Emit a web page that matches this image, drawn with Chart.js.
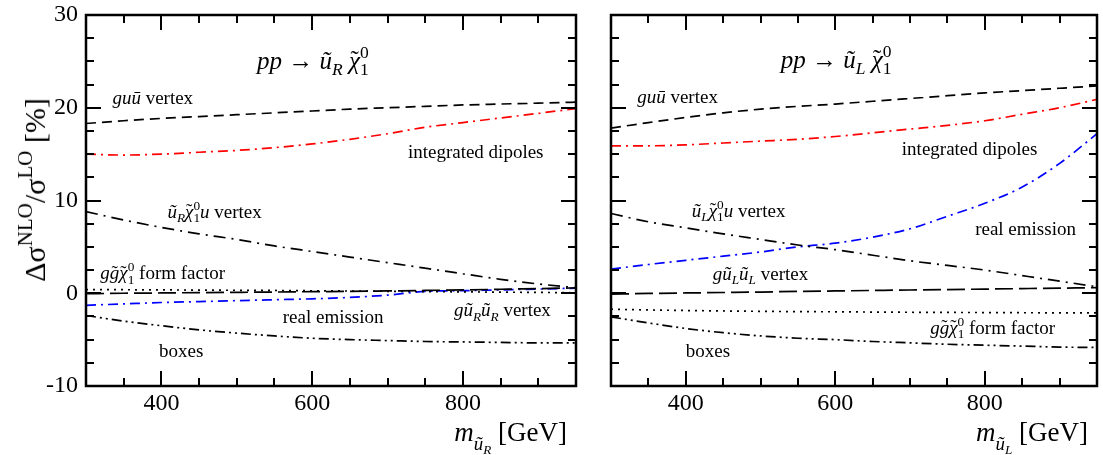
<!DOCTYPE html>
<html>
<head>
<meta charset="utf-8">
<script src="https://cdn.jsdelivr.net/npm/chart.js@4.4.0/dist/chart.umd.min.js"></script>
<style>
    body { margin: 0; background: #fff; width: 1103px; height: 455px; overflow: hidden; position: relative; font-family: "Liberation Serif", serif; color: #000; }
    canvas { position: absolute; top: 0; }
    #leftChart { left: 0; }
    #rightChart { left: 590px; }
    .lbl { position: absolute; white-space: nowrap; font-size: 19px; line-height: 1; transform: translateY(-50%); }
    .sp, .sb { position: relative; font-size: 70%; }
    .sp { top: -0.6em; }
    .sb { top: 0.35em; }
    .st { margin-left: -0.5em; }
    .tw { position: relative; display: inline-block; }
    .tl { position: absolute; left: 0; right: 0; top: -0.02em; text-align: center; font-style: normal; }
    .axisTitle { position: absolute; white-space: nowrap; font-size: 27px; line-height: 1; }
    #yTitle { position: absolute; left: 35px; top: 190px; font-size: 30px; line-height: 1; white-space: nowrap; transform: translate(-50%, -50%) rotate(-90deg); }
</style>
</head>
<body>
<canvas id="leftChart" width="590" height="455"></canvas>
<canvas id="rightChart" width="513" height="455"></canvas>
<div id="yTitle">Δσ<span class="sp">NLO</span>/σ<span class="sp">LO</span> [%]</div>
<script>
// squark mass grid [GeV]
const mass = [300, 350, 400, 450, 500, 550, 600, 650, 700, 750, 800, 850, 900, 950];
const xTickValues = [400, 600, 800];
const yTickValues = [-10, 0, 10, 20, 30];
const xMinorStep = 50;
const yMinorStep = 2.5;

// pp -> ~u_R ~chi_1^0
const guuVertexR = [18.3, 18.6, 18.85, 19.05, 19.25, 19.45, 19.65, 19.85, 20.0, 20.15, 20.3, 20.4, 20.5, 20.6];
const dipolesR = [15.0, 14.9, 15.0, 15.2, 15.4, 15.7, 16.1, 16.6, 17.2, 17.9, 18.4, 18.9, 19.4, 19.9];
const sqChiVertexR = [8.8, 7.9, 7.1, 6.4, 5.8, 5.1, 4.5, 3.9, 3.3, 2.7, 2.1, 1.5, 1.0, 0.6];
const formFactorR = [0.4, 0.38, 0.36, 0.34, 0.32, 0.3, 0.27, 0.24, 0.21, 0.18, 0.15, 0.12, 0.09, 0.05];
const gluSqVertexR = [-0.05, 0.0, 0.03, 0.07, 0.1, 0.13, 0.17, 0.2, 0.25, 0.3, 0.36, 0.43, 0.5, 0.58];
const realEmR = [-1.3, -1.15, -1.0, -0.9, -0.8, -0.7, -0.6, -0.45, -0.2, 0.2, 0.28, 0.36, 0.45, 0.55];
const boxesR = [-2.4, -3.0, -3.5, -3.95, -4.3, -4.6, -4.85, -5.0, -5.1, -5.2, -5.25, -5.3, -5.35, -5.35];

// pp -> ~u_L ~chi_1^0
const guuVertexL = [17.8, 18.4, 18.95, 19.45, 19.85, 20.15, 20.4, 20.7, 21.0, 21.3, 21.6, 21.85, 22.1, 22.35];
const dipolesL = [15.9, 15.9, 16.0, 16.2, 16.4, 16.6, 16.9, 17.3, 17.7, 18.1, 18.6, 19.3, 20.0, 20.9];
const sqChiVertexL = [8.6, 7.7, 7.05, 6.4, 5.8, 5.2, 4.7, 4.1, 3.5, 3.0, 2.5, 1.9, 1.3, 0.7];
const realEmL = [2.6, 3.1, 3.55, 4.0, 4.45, 5.0, 5.4, 6.05, 6.95, 8.3, 9.7, 11.45, 14.0, 17.2];
const gluSqVertexL = [-0.1, -0.02, 0.03, 0.08, 0.13, 0.2, 0.25, 0.3, 0.35, 0.4, 0.45, 0.5, 0.55, 0.6];
const formFactorL = [-1.72, -1.8, -1.86, -1.91, -1.95, -1.98, -2.0, -2.03, -2.05, -2.07, -2.08, -2.1, -2.11, -2.12];
const boxesL = [-2.55, -3.2, -3.8, -4.25, -4.6, -4.85, -5.0, -5.2, -5.35, -5.5, -5.6, -5.7, -5.8, -5.85];

const styles = {
    guu: { color: '#000', dash: [10, 6] },
    dipoles: { color: '#ff0000', dash: [10, 5, 2, 5] },
    sqChi: { color: '#000', dash: [12, 6, 2, 6] },
    formFactor: { color: '#000', dash: [2, 5] },
    gluSq: { color: '#000', dash: [18, 6] },
    realEm: { color: '#0000ff', dash: [10, 5, 2, 5] },
    boxes: { color: '#000', dash: [10, 4, 2, 4, 2, 4] }
};

const seriesR = [
    [guuVertexR, styles.guu], [dipolesR, styles.dipoles], [sqChiVertexR, styles.sqChi],
    [formFactorR, styles.formFactor], [gluSqVertexR, styles.gluSq], [realEmR, styles.realEm], [boxesR, styles.boxes]
];
const seriesL = [
    [guuVertexL, styles.guu], [dipolesL, styles.dipoles], [sqChiVertexL, styles.sqChi],
    [formFactorL, styles.formFactor], [gluSqVertexL, styles.gluSq], [realEmL, styles.realEm], [boxesL, styles.boxes]
];

const tilde = ch => '<span class="tw"><i>' + ch + '</i><span class="tl">˜</span></span>';
const chi = tilde('χ') + '<span class="sp">0</span><span class="sb st">1</span>';
const labelsR = [
    { html: '<i>pp</i> → <i>ũ</i><span class="sb"><i>R</i></span> ' + chi, x: 527, y: 25.2, size: 25 },
    { html: '<i>guū</i> vertex', x: 335, y: 21.2 },
    { html: 'integrated dipoles', x: 727, y: 15.3 },
    { html: '<i>ũ</i><span class="sb"><i>R</i></span>' + chi + '<i>u</i> vertex', x: 408, y: 8.9 },
    { html: '<i>g</i>' + tilde('g') + chi + ' form factor', x: 319, y: 2.3 },
    { html: 'real emission', x: 561, y: -2.4 },
    { html: '<i>gũ</i><span class="sb"><i>R</i></span><i>ũ</i><span class="sb"><i>R</i></span> vertex', x: 788, y: -1.7 },
    { html: 'boxes', x: 397, y: -6.1 }
];
const labelsL = [
    { html: '<i>pp</i> → <i>ũ</i><span class="sb"><i>L</i></span> ' + chi, x: 527, y: 25.3, size: 25 },
    { html: '<i>guū</i> vertex', x: 335, y: 21.3 },
    { html: 'integrated dipoles', x: 689, y: 15.7 },
    { html: '<i>ũ</i><span class="sb"><i>L</i></span>' + chi + '<i>u</i> vertex', x: 408, y: 9.0 },
    { html: 'real emission', x: 787, y: 7.0 },
    { html: '<i>gũ</i><span class="sb"><i>L</i></span><i>ũ</i><span class="sb"><i>L</i></span> vertex', x: 436, y: 2.2 },
    { html: '<i>g</i>' + tilde('g') + chi + ' form factor', x: 727, y: -3.6 },
    { html: 'boxes', x: 400, y: -6.1 }
];

// frame and inward ticks on all four sides
const frameTicks = {
    id: 'frameTicks',
    afterDatasetsDraw(chart) {
        const { ctx, chartArea: a, scales: { x, y } } = chart;
        ctx.save();
        ctx.strokeStyle = '#000';
        ctx.lineWidth = 2;
        ctx.setLineDash([]);
        ctx.beginPath();
        for (let v = x.min + xMinorStep; v < x.max; v += xMinorStep) {
            let px = Math.round(x.getPixelForValue(v));
            let len = xTickValues.includes(v) ? 15 : 8;
            ctx.moveTo(px, a.bottom); ctx.lineTo(px, a.bottom - len);
            ctx.moveTo(px, a.top); ctx.lineTo(px, a.top + len);
        }
        for (let v = y.min + yMinorStep; v < y.max; v += yMinorStep) {
            let py = Math.round(y.getPixelForValue(v));
            let len = yTickValues.includes(v) ? 15 : 8;
            ctx.moveTo(a.left, py); ctx.lineTo(a.left + len, py);
            ctx.moveTo(a.right, py); ctx.lineTo(a.right - len, py);
        }
        ctx.stroke();
        ctx.lineWidth = 2.5;
        ctx.strokeRect(a.left, a.top, a.right - a.left, a.bottom - a.top);
        ctx.restore();
    }
};

const xTickFont = { family: 'Liberation Serif', size: 24 };
// small lineHeight so the "30" label does not push the plot area down
const yTickFont = { family: 'Liberation Serif', size: 24, lineHeight: 0.58 };

function makeChart(canvasId, series, yWidth, padRight, showYLabels) {
    return new Chart(document.getElementById(canvasId), {
        type: 'line',
        data: {
            datasets: series.map(([values, st]) => ({
                data: mass.map((m, i) => ({ x: m, y: values[i] })),
                borderColor: st.color,
                borderDash: st.dash,
                borderWidth: 1.7,
                pointRadius: 0,
                fill: false,
                cubicInterpolationMode: 'monotone'
            }))
        },
        options: {
            responsive: false,
            animation: false,
            devicePixelRatio: 1,
            layout: { padding: { top: 15, right: padRight, left: 0, bottom: 0 } },
            plugins: { legend: { display: false }, tooltip: { enabled: false } },
            scales: {
                x: {
                    type: 'linear', min: 300, max: 950,
                    grid: { display: false, drawTicks: false },
                    border: { display: false },
                    afterBuildTicks: s => { s.ticks = xTickValues.map(v => ({ value: v })); },
                    ticks: { font: xTickFont, color: '#000', padding: 3, maxRotation: 0 },
                    afterFit: s => { s.height = 69; }
                },
                y: {
                    type: 'linear', min: -10, max: 30,
                    grid: { display: false, drawTicks: false },
                    border: { display: false },
                    afterBuildTicks: s => { s.ticks = yTickValues.map(v => ({ value: v })); },
                    ticks: { display: showYLabels, font: yTickFont, color: '#000', padding: 8 },
                    afterFit: s => { s.width = yWidth; }
                }
            }
        },
        plugins: [frameTicks]
    });
}

function placeLabels(chart, offsetX, list) {
    list.forEach(l => {
        let div = document.createElement('div');
        div.className = 'lbl';
        div.innerHTML = l.html;
        div.style.left = (offsetX + chart.scales.x.getPixelForValue(l.x)) + 'px';
        div.style.top = chart.scales.y.getPixelForValue(l.y) + 'px';
        if (l.size) div.style.fontSize = l.size + 'px';
        document.body.appendChild(div);
    });
}

function placeAxisTitle(chart, offsetX, sub) {
    let div = document.createElement('div');
    div.className = 'axisTitle';
    div.innerHTML = '<i>m</i><span class="sb" style="top:0.45em"><i>ũ</i><span class="sb"><i>' + sub + '</i></span></span> [GeV]';
    div.style.right = (1103 - (offsetX + chart.chartArea.right - 9)) + 'px';
    div.style.top = '419px';
    document.body.appendChild(div);
}

const leftChart = makeChart('leftChart', seriesR, 86, 14, true);
const rightChart = makeChart('rightChart', seriesL, 21, 6, false);
placeLabels(leftChart, 0, labelsR);
placeLabels(rightChart, 590, labelsL);
placeAxisTitle(leftChart, 0, 'R');
placeAxisTitle(rightChart, 590, 'L');
</script>
</body>
</html>
